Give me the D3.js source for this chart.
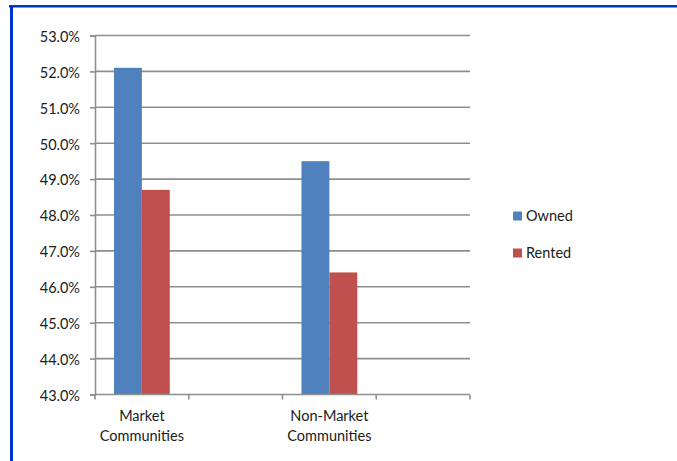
<!DOCTYPE html>
<html>
<head>
<meta charset="utf-8">
<script src="https://cdn.jsdelivr.net/npm/d3@7"></script>
<style>
  html, body { margin: 0; padding: 0; background: #fff; }
  svg { display: block; font-family: Lato, "Open Sans", sans-serif; }
</style>
</head>
<body>
<svg id="chart" width="677" height="461"></svg>
<script>
// Category slots along the x axis (two empty slots keep Excel-style spacing)
const categories = ["Market Communities", "gap1", "Non-Market Communities", "gap2"];
const categoryLabels = [["Market", "Communities"], [], ["Non-Market", "Communities"], []];
const seriesNames = ["Owned", "Rented"];
const ownedValues = [52.1, null, 49.5, null];
const rentedValues = [48.7, null, 46.4, null];
const yTicks = [43, 44, 45, 46, 47, 48, 49, 50, 51, 52, 53];
const colors = ["#4F81BD", "#C0504D"];

const fontSize = 14.5;
const textColor = "#1a1a1a";
const svg = d3.select("#chart");

// Frame accents
svg.append("rect").attr("x", 9).attr("y", 5).attr("width", 668).attr("height", 2.5).attr("fill", "#0033cc");
svg.append("rect").attr("x", 10).attr("y", 5).attr("width", 3).attr("height", 456).attr("fill", "#0033cc");

const plot = { left: 95, right: 470, top: 35.5, bottom: 394.5 };

const x = d3.scaleBand().domain(categories).range([plot.left, plot.right]).paddingInner(0).paddingOuter(0);
const y = d3.scaleLinear().domain([43, 53]).range([plot.bottom, plot.top]);

const gridColor = "#8e8e8e";

// Horizontal gridlines
svg.append("g").selectAll("line").data(yTicks.slice(1)).join("line")
  .attr("x1", plot.left).attr("x2", plot.right)
  .attr("y1", d => y(d)).attr("y2", d => y(d))
  .attr("stroke", gridColor).attr("stroke-width", 1.6);

// Y axis
const yAxis = d3.axisLeft(y).tickValues(yTicks).tickSize(5).tickPadding(10)
  .tickFormat(d => d.toFixed(1) + "%");
const gy = svg.append("g").attr("transform", `translate(${plot.left},0)`).call(yAxis);
gy.select(".domain").attr("stroke", gridColor).attr("stroke-width", 1.6);
gy.selectAll(".tick line").attr("stroke", gridColor).attr("stroke-width", 1.6);
gy.selectAll(".tick text").attr("font-size", fontSize).attr("fill", textColor)
  .attr("font-family", "Lato, sans-serif").attr("dy", "0.4em");

// Bars
const inner = d3.scaleBand().domain(seriesNames).range([0, x.bandwidth()]).paddingInner(0).paddingOuter(0.68);
const rows = [];
categories.forEach((c, i) => {
  [ownedValues[i], rentedValues[i]].forEach((v, j) => {
    if (v != null) rows.push({ cat: c, series: seriesNames[j], value: v, color: colors[j] });
  });
});
svg.append("g").selectAll("rect").data(rows).join("rect")
  .attr("x", d => x(d.cat) + inner(d.series))
  .attr("width", inner.bandwidth())
  .attr("y", d => y(d.value))
  .attr("height", d => y(43) - y(d.value))
  .attr("fill", d => d.color);

// X axis with ticks at slot boundaries
svg.append("line").attr("x1", plot.left).attr("x2", plot.right)
  .attr("y1", plot.bottom).attr("y2", plot.bottom)
  .attr("stroke", gridColor).attr("stroke-width", 1.6);
const boundaries = categories.map(c => x(c)).concat([plot.right]);
svg.append("g").selectAll("line").data(boundaries).join("line")
  .attr("x1", d => d).attr("x2", d => d)
  .attr("y1", plot.bottom).attr("y2", plot.bottom + 5)
  .attr("stroke", gridColor).attr("stroke-width", 1.6);

// Category labels
const lab = svg.append("g").attr("font-size", fontSize).attr("fill", textColor).attr("text-anchor", "middle");
categories.forEach((c, i) => {
  categoryLabels[i].forEach((line, k) => {
    lab.append("text")
      .attr("x", x(c) + x.bandwidth() / 2)
      .attr("y", 421 + k * 20)
      .text(line);
  });
});

// Legend
const legend = svg.append("g");
seriesNames.forEach((s, i) => {
  const ly = 216 + i * 37;
  legend.append("rect").attr("x", 513).attr("y", ly - 4.5).attr("width", 9).attr("height", 9).attr("fill", colors[i]);
  legend.append("text").attr("x", 526).attr("y", ly).attr("dy", "0.36em")
    .attr("font-size", fontSize).attr("fill", textColor).text(s);
});
</script>
</body>
</html>
